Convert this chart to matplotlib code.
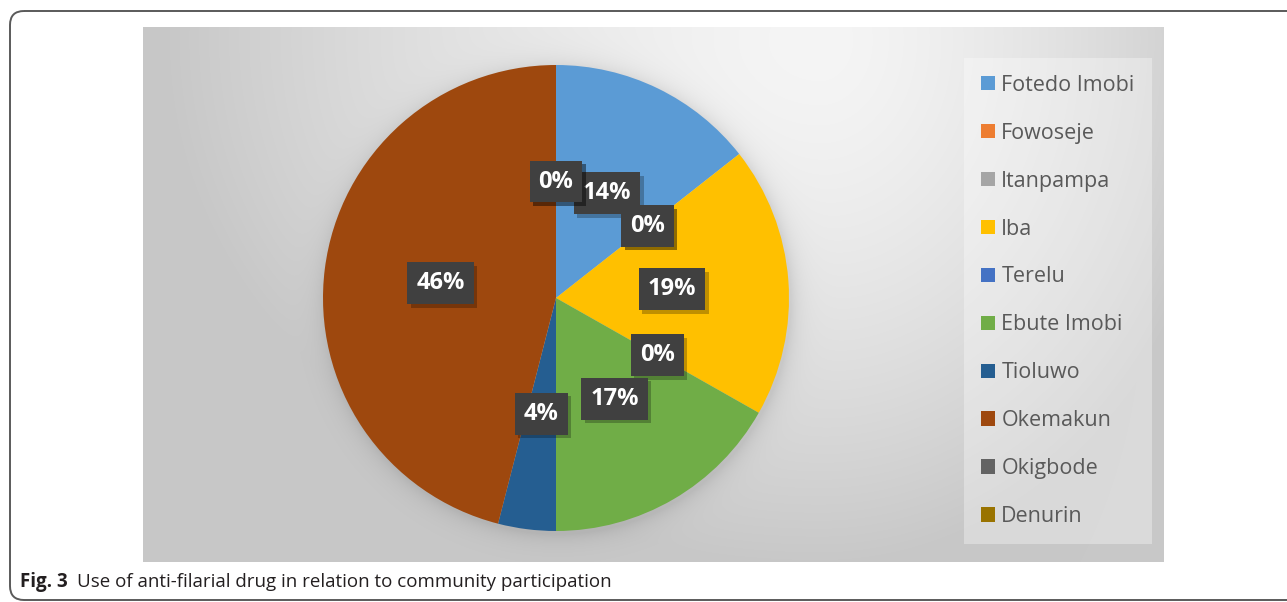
import numpy as np
import matplotlib
matplotlib.use("Agg")
import matplotlib.pyplot as plt
from matplotlib.patches import FancyBboxPatch
import matplotlib.patheffects as pe

# ---- data ----
communities = ["Fotedo Imobi", "Fowoseje", "Itanpampa", "Iba", "Terelu",
               "Ebute Imobi", "Tioluwo", "Okemakun", "Okigbode", "Denurin"]
shares = [14.4, 0, 0, 18.8, 0, 16.8, 4.0, 46.0, 0, 0]
colors = ["#5B9BD5", "#ED7D31", "#A5A5A5", "#FFC000", "#4472C4",
          "#70AD47", "#255E91", "#9E480E", "#636363", "#997300"]
caption_bold = "Fig. 3"
caption_text = "Use of anti-filarial drug in relation to community participation"

W, H = 1287, 602
fig = plt.figure(figsize=(W / 100, H / 100), dpi=100)
fig.patch.set_facecolor("white")

def fx(px):
    return px / W

def fy(py):
    return 1 - py / H

# ---- outer rounded frame ----
frame_ax = fig.add_axes([0, 0, 1, 1])
frame_ax.set_xlim(0, W)
frame_ax.set_ylim(H, 0)
frame_ax.axis("off")
frame = FancyBboxPatch((10, 11), 1400, 589, boxstyle="round,pad=0,rounding_size=14",
                       facecolor="none", edgecolor="#5a5a5a", linewidth=1.4)
frame_ax.add_patch(frame)

# ---- chart background (gradient + soft pie shadow) ----
cx, cy, r = 556, 298, 233
bx0, bx1, by0, by1 = 143, 1164, 27, 562
bg_ax = fig.add_axes([fx(bx0), fy(by1), fx(bx1 - bx0), (by1 - by0) / H])
xx, yy = np.meshgrid(np.arange(bx0, bx1) + 0.5, np.arange(by0, by1) + 0.5)
sx = np.where(xx < 820, 650.0, 420.0)
d = np.hypot((xx - 820) / sx, (yy - 40) / 520)
f = np.clip(d, 0, 1) ** 1.5
g = (0xf5 - 45 * f) / 255.0
rho = np.hypot(xx - (cx + 2), yy - (cy + 3))
shadow = 0.10 * np.exp(-np.clip(rho - r, 0, None) / 10.0)
g = g * (1 - shadow)
img = np.dstack([g, g, g])
bg_ax.imshow(img, aspect="auto", extent=[0, 1, 0, 1], interpolation="bilinear")
bg_ax.axis("off")

# ---- pie ----
pie_ax = fig.add_axes([fx(cx - r), fy(cy + r), fx(2 * r), 2 * r / H])
wedges, texts, autotexts = pie_ax.pie(
    shares, colors=colors, startangle=90, counterclock=False,
    autopct=lambda p: f"{p:.0f}%", pctdistance=0.5,
    wedgeprops=dict(linewidth=0),
    textprops=dict(color="white", fontsize=17, fontweight="bold", family="Open Sans"))
pie_ax.set_xlim(-1, 1)
pie_ax.set_ylim(-1, 1)
for t in autotexts:
    t.set_bbox(dict(boxstyle="square,pad=0.38", facecolor="#404040",
                    edgecolor="none", linewidth=0))
    t.get_bbox_patch().set_path_effects([
        pe.SimplePatchShadow(offset=(2.5, -2.5), shadow_rgbFace="black", alpha=0.25),
        pe.Normal()])

# ---- legend ----
leg = fig.legend(wedges, communities, loc="upper left",
                 bbox_to_anchor=(fx(969), fy(63)),
                 frameon=True, fancybox=False, facecolor="white", framealpha=0.33,
                 edgecolor="none", prop=dict(family="Open Sans", size=15.5),
                 labelspacing=1.25, handlelength=0.65, handleheight=0.65,
                 handletextpad=0.3, borderpad=0.55, borderaxespad=0)
leg.get_frame().set_boxstyle("square", pad=0.25)
for txt in leg.get_texts():
    txt.set_color("#595959")

# ---- caption ----
t1 = fig.text(fx(20), fy(582), caption_bold, fontsize=13.5, fontweight="bold",
              family="Open Sans", color="#231f20", va="center", ha="left")
fig.canvas.draw()
bb = t1.get_window_extent()
fig.text((bb.x1 + 9) / W, fy(582), caption_text, fontsize=13.5,
         family="Open Sans", color="#231f20", va="center", ha="left")

fig.savefig("out.png", dpi=100)
